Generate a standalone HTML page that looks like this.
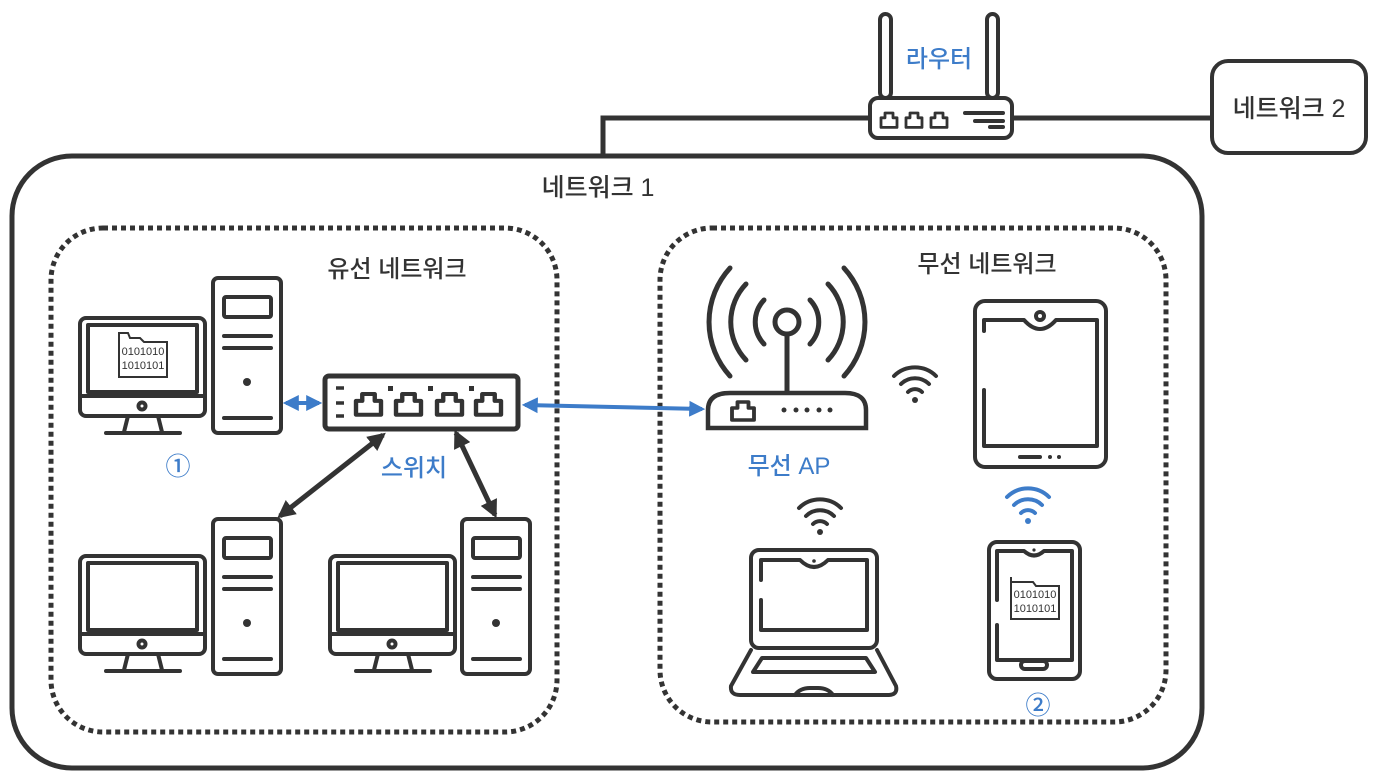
<!DOCTYPE html>
<html><head><meta charset="utf-8"><style>
html,body{margin:0;padding:0;background:#fff}
svg{display:block}
text{font-family:"Liberation Sans","Noto Sans CJK KR",sans-serif;font-weight:500}
</style></head><body>
<svg width="1378" height="776" viewBox="0 0 1378 776" xmlns="http://www.w3.org/2000/svg">
<defs>
<marker id="ab" viewBox="0 0 10 10" refX="8" refY="5" markerWidth="4" markerHeight="4" orient="auto-start-reverse"><path d="M0,0L10,5L0,10z" fill="#3d7cc9"/></marker>
<marker id="ak" viewBox="0 0 10 10" refX="8" refY="5" markerWidth="3.6" markerHeight="3.6" orient="auto-start-reverse"><path d="M0,0L10,5L0,10z" fill="#333"/></marker>
<g id="mon" fill="none" stroke="#333" stroke-width="4" stroke-linecap="round" stroke-linejoin="round">
<rect x="0" y="0" width="125" height="98" rx="6"/>
<rect x="8" y="7" width="109" height="67"/>
<line x1="0" y1="78" x2="125" y2="78"/>
<circle cx="62" cy="88" r="3.5"/>
<path d="M48,98 L44,114 M78,98 L82,114 M26,115 L100,115"/>
</g>
<g id="tow" fill="none" stroke="#333" stroke-width="4" stroke-linecap="round" stroke-linejoin="round">
<rect x="0" y="0" width="68" height="155" rx="5"/>
<rect x="11" y="19" width="47" height="20" rx="2"/>
<line x1="11" y1="58" x2="58" y2="58"/><line x1="11" y1="70" x2="58" y2="70"/>
<circle cx="34" cy="104" r="4" fill="#333" stroke="none"/>
<line x1="11" y1="140" x2="58" y2="140"/>
</g>
<g id="wifi" fill="none" stroke-width="4" stroke-linecap="round">
<path d="M-21,-8 A30,30 0 0 1 21,-8"/><path d="M-14,0 A20,20 0 0 1 14,0"/><path d="M-7,8 A10,10 0 0 1 7,8"/>
</g>
<g id="port" fill="none" stroke="#333" stroke-width="3.5" stroke-linejoin="round"><path d="M0,18 V6 H5 V0 H15 V6 H20 V18 Z"/></g>
</defs>

<rect x="12" y="156" width="1190" height="612" rx="60" fill="none" stroke="#333" stroke-width="5"/>
<text x="598" y="196" font-size="25" fill="#333" text-anchor="middle">네트워크 1</text>
<rect x="1212" y="61" width="154" height="92" rx="16" fill="none" stroke="#333" stroke-width="4"/>
<text x="1289" y="117" font-size="25" fill="#333" text-anchor="middle">네트워크 2</text>
<polyline points="603,155 603,118 872,118" fill="none" stroke="#333" stroke-width="5"/>
<line x1="1010" y1="118" x2="1212" y2="118" stroke="#333" stroke-width="5"/>
<g fill="none" stroke="#333" stroke-width="4" stroke-linecap="round" stroke-linejoin="round">
<rect x="880" y="14" width="11" height="84" rx="5.5"/>
<rect x="987" y="14" width="11" height="84" rx="5.5"/>
<rect x="870" y="98" width="142" height="40" rx="8" fill="#fff"/>
<line x1="965" y1="113" x2="1003" y2="113"/><line x1="975" y1="121" x2="1003" y2="121"/><line x1="990" y1="127" x2="1003" y2="127"/>
</g>
<use href="#port" transform="translate(881,113) scale(0.8)"/>
<use href="#port" transform="translate(906,113) scale(0.8)"/>
<use href="#port" transform="translate(931,113) scale(0.8)"/>
<text x="939" y="67" font-size="24" fill="#3d7cc9" text-anchor="middle">라우터</text>

<rect x="51" y="228" width="506" height="504" rx="52" fill="none" stroke="#333" stroke-width="5" stroke-dasharray="5 4"/>
<rect x="660" y="228" width="506" height="494" rx="52" fill="none" stroke="#333" stroke-width="5" stroke-dasharray="5 4"/>
<text x="397" y="277" font-size="24" fill="#333" text-anchor="middle">유선 네트워크</text>
<text x="987" y="272" font-size="24" fill="#333" text-anchor="middle">무선 네트워크</text>

<use href="#mon" transform="translate(80,318)"/>
<use href="#tow" transform="translate(213,278)"/>
<g fill="none" stroke="#333" stroke-width="2"><path d="M119,333 V377 H167 V342 H144 L140,338 H130 L128,333 Z"/></g>
<text x="143" y="355" font-size="11" font-weight="bold" fill="#333" text-anchor="middle">0101010</text>
<text x="143" y="369" font-size="11" font-weight="bold" fill="#333" text-anchor="middle">1010101</text>
<text x="178" y="475" font-size="25" font-weight="bold" fill="#3d7cc9" text-anchor="middle">①</text>

<use href="#mon" transform="translate(80,556)"/>
<use href="#tow" transform="translate(213,519)"/>
<use href="#mon" transform="translate(330,556)"/>
<use href="#tow" transform="translate(462,519)"/>

<g fill="none" stroke="#333" stroke-width="5" stroke-linecap="round">
<rect x="325" y="376" width="193" height="53" rx="4"/>
</g>
<g stroke="#333" stroke-width="3.5"><line x1="336" y1="388" x2="344" y2="388"/><line x1="336" y1="403" x2="344" y2="403"/><line x1="336" y1="416" x2="344" y2="416"/></g>
<use href="#port" transform="translate(356,394) scale(1.25,1.15)"/>
<use href="#port" transform="translate(396,394) scale(1.25,1.15)"/>
<use href="#port" transform="translate(437,394) scale(1.25,1.15)"/>
<use href="#port" transform="translate(476,394) scale(1.25,1.15)"/>
<g fill="#333"><rect x="388" y="386" width="5" height="5"/><rect x="428" y="386" width="5" height="5"/><rect x="469" y="386" width="5" height="5"/></g>
<text x="414" y="476" font-size="24" fill="#3d7cc9" text-anchor="middle">스위치</text>

<line x1="286" y1="403" x2="319" y2="403" stroke="#3d7cc9" stroke-width="4" marker-start="url(#ab)" marker-end="url(#ab)"/>
<line x1="525" y1="405" x2="702" y2="409" stroke="#3d7cc9" stroke-width="4" marker-start="url(#ab)" marker-end="url(#ab)"/>
<line x1="383" y1="435" x2="280" y2="516" stroke="#333" stroke-width="5" marker-start="url(#ak)" marker-end="url(#ak)"/>
<line x1="456" y1="433" x2="495" y2="515" stroke="#333" stroke-width="5" marker-start="url(#ak)" marker-end="url(#ak)"/>

<g fill="none" stroke="#333" stroke-width="5" stroke-linecap="round">
<circle cx="787" cy="322" r="12"/>
<line x1="787" y1="334" x2="787" y2="392"/>
<path d="M764,300 A32,32 0 0 0 764,344"/><path d="M810,300 A32,32 0 0 1 810,344"/>
<path d="M746,284 A55,55 0 0 0 746,360"/><path d="M828,284 A55,55 0 0 1 828,360"/>
<path d="M730,268 A80,80 0 0 0 730,376"/><path d="M844,268 A80,80 0 0 1 844,376"/>
<path d="M708,428 V410 Q708,393 730,393 H845 Q866,393 866,410 V428 Z" stroke-width="4.5"/>
</g>
<use href="#port" transform="translate(732,402) scale(1.1,1)"/>
<g fill="#333"><circle cx="784" cy="410" r="2.5"/><circle cx="796" cy="410" r="2.5"/><circle cx="807" cy="410" r="2.5"/><circle cx="819" cy="410" r="2.5"/><circle cx="830" cy="410" r="2.5"/></g>
<text x="789" y="474" font-size="24" fill="#3d7cc9" text-anchor="middle">무선 AP</text>

<use href="#wifi" transform="translate(915,384)" stroke="#333"/><circle cx="915" cy="400" r="3" fill="#333"/>
<use href="#wifi" transform="translate(820,516)" stroke="#333"/><circle cx="820" cy="532" r="3" fill="#333"/>
<use href="#wifi" transform="translate(1028,505)" stroke="#3d7cc9"/><circle cx="1028" cy="521" r="3" fill="#3d7cc9"/>

<g fill="none" stroke="#333" stroke-width="4" stroke-linecap="round" stroke-linejoin="round">
<rect x="975" y="301" width="131" height="166" rx="10"/>
<path d="M984,331 V320 H1024 Q1040,338 1056,320 H1097 V446 H984 V390"/>
<circle cx="1040" cy="316" r="4"/>
<line x1="1020" y1="457" x2="1040" y2="457"/>
</g>
<g fill="#333"><circle cx="1050" cy="457" r="2"/><circle cx="1059" cy="457" r="2"/></g>

<g fill="none" stroke="#333" stroke-width="4" stroke-linecap="round" stroke-linejoin="round">
<rect x="751" y="550" width="126" height="98" rx="8"/>
<path d="M761,580 V560 H800 Q814,574 828,560 H867 V630 H761 V600"/>
<path d="M751,650 L731,686 Q730,695 740,695 H888 Q898,695 896,686 L877,650"/>
<path d="M753,672 L762,658 H866 L875,672 Z"/>
<path d="M795,695 Q800,688 810,688 H818 Q828,688 833,695"/>
</g>
<circle cx="814" cy="561" r="1.8" fill="#333"/>

<g fill="none" stroke="#333" stroke-width="4" stroke-linecap="round" stroke-linejoin="round">
<rect x="989" y="542" width="91" height="137" rx="8"/>
<path d="M997,600 V551 H1024 Q1034,560 1044,551 H1072 V660 H997 V625"/>
<rect x="1021" y="661" width="26" height="8" rx="4"/>
</g>
<circle cx="1034" cy="550" r="1.6" fill="#333"/>
<g fill="none" stroke="#333" stroke-width="2"><path d="M1011,577 V619 H1059 V586 H1036 L1033,582 H1011"/></g>
<text x="1035" y="598" font-size="11" font-weight="bold" fill="#333" text-anchor="middle">0101010</text>
<text x="1035" y="612" font-size="11" font-weight="bold" fill="#333" text-anchor="middle">1010101</text>
<text x="1038" y="714" font-size="25" font-weight="bold" fill="#3d7cc9" text-anchor="middle">②</text>
</svg>
</body></html>
